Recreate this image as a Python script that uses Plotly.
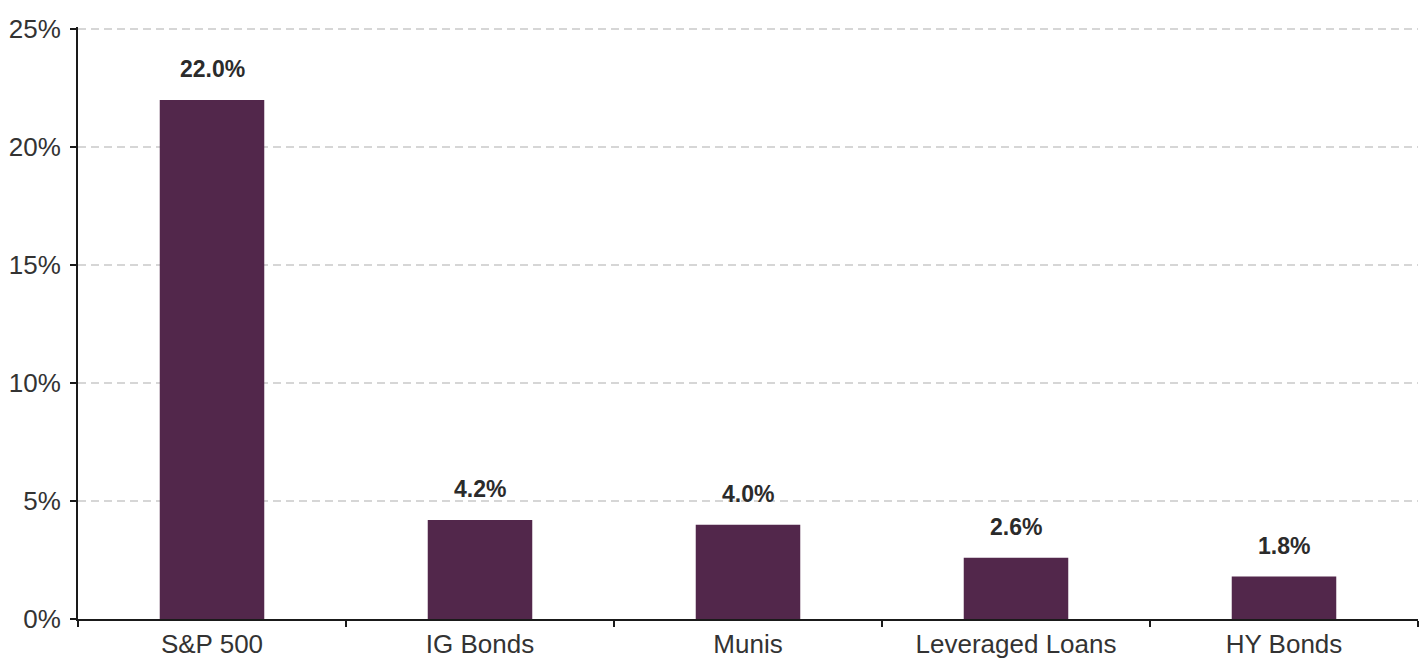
import plotly.graph_objects as go

categories = ["S&P 500", "IG Bonds", "Munis", "Leveraged Loans", "HY Bonds"]
values = [22.0, 4.2, 4.0, 2.6, 1.8]
labels = ["22.0%", "4.2%", "4.0%", "2.6%", "1.8%"]
y_ticks = [0, 5, 10, 15, 20, 25]
y_tick_text = ["0%", "5%", "10%", "15%", "20%", "25%"]

FONT = "Liberation Sans, Arial, sans-serif"

fig = go.Figure()
fig.add_trace(go.Bar(x=categories, y=values, marker=dict(color="#52274B", line=dict(width=0)),
                     width=0.39, hoverinfo="skip"))

for c, v, t in zip(categories, values, labels):
    fig.add_annotation(x=c, y=v, text="<b>" + t + "</b>", showarrow=False, yshift=31,
                       font=dict(family=FONT, size=23, color="#2b2b2b"))

fig.update_layout(
    width=1426, height=661,
    margin=dict(l=78, r=8, t=27, b=42, autoexpand=False),
    paper_bgcolor="white", plot_bgcolor="white",
    showlegend=False,
    font=dict(family=FONT, size=26, color="#333333"),
)
fig.update_xaxes(
    showline=True, linecolor="#1a1a1a", linewidth=2,
    ticks="outside", tickson="boundaries", ticklen=6, tickwidth=2, tickcolor="#1a1a1a",
    showgrid=False, tickfont=dict(family=FONT, size=26, color="#333333"),
    ticklabelstandoff=1, automargin=False,
)
fig.update_yaxes(
    range=[0, 25.1], tickvals=y_ticks, ticktext=y_tick_text,
    showline=True, linecolor="#1a1a1a", linewidth=2,
    ticks="outside", ticklen=6, tickwidth=2, tickcolor="#1a1a1a",
    showgrid=True, gridcolor="#d6d6d6", gridwidth=2, griddash="8px,5px",
    zeroline=False, tickfont=dict(family=FONT, size=26, color="#333333"), ticklabelstandoff=4,
    automargin=False,
)

fig.write_html("out.html")
